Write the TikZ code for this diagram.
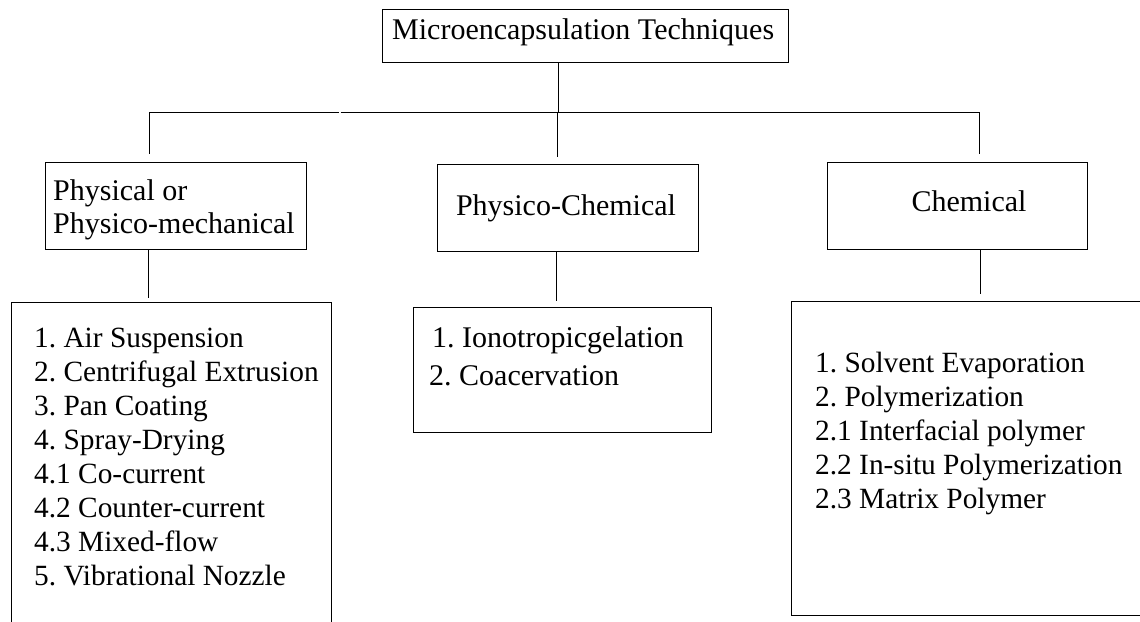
\documentclass[tikz,border=0pt]{standalone}
\usepackage{fontspec}
\setmainfont{Liberation Serif}
\frenchspacing
\begin{document}
\begin{tikzpicture}[x=1pt,y=-1pt,
  box/.style={draw=black, line width=1pt, inner sep=0pt, fill=none},
  txt/.style={inner sep=0pt, font=\fontsize{30}{34}\selectfont},
  listtxt/.style={inner sep=0pt, font=\fontsize{29.35}{34}\selectfont},
  conn/.style={draw=black, line width=1pt}]
\useasboundingbox (0,0) rectangle (1140,621);
\clip (0,0) rectangle (1140,621);
% boxes
\node[box, minimum width=406pt, minimum height=53pt] (top) at (585,35.5) {};
\node[box, minimum width=261pt, minimum height=87pt] (L1) at (175.5,205.5) {};
\node[box, minimum width=261pt, minimum height=87pt] (M1) at (567.5,207.5) {};
\node[box, minimum width=260pt, minimum height=87pt] (R1) at (957,205.5) {};
\node[box, minimum width=320pt, minimum height=338pt] (L2) at (171,471) {};
\node[box, minimum width=298pt, minimum height=125pt] (M2) at (562,369.5) {};
\node[box, minimum width=369pt, minimum height=314pt] (R2) at (975.5,458) {};
% texts
\node[txt, anchor=base west] (ttop) at (392,39) {Microencapsulation Techniques};
\node[txt, anchor=base west] (tl1a) at (53,200) {Physical or};
\node[txt, anchor=base west] (tl1b) at (53,233) {Physico-mechanical};
\node[txt, anchor=base] (tm1) at (566,215) {Physico-Chemical};
\node[txt, anchor=base] (tr1) at (969,211) {Chemical};
\foreach \t [count=\i] in {1. Air Suspension, 2. Centrifugal Extrusion, 3. Pan Coating, 4. Spray-Drying, 4.1 Co-current, 4.2 Counter-current, 4.3 Mixed-flow, 5. Vibrational Nozzle}
  \node[listtxt, anchor=base west] (tl2\i) at ({34},{347+34.1*(\i-1)}) {\t};
\node[txt, anchor=base west] (tm2a) at (432,347) {1. Ionotropicgelation};
\node[txt, anchor=base west] (tm2b) at (429,385) {2. Coacervation};
\foreach \t [count=\i] in {1. Solvent Evaporation, 2. Polymerization, 2.1 Interfacial polymer, 2.2 In-situ Polymerization, 2.3 Matrix Polymer}
  \node[listtxt, anchor=base west] (tr2\i) at ({815},{372+34*(\i-1)}) {\t};
% connectors
\coordinate (j) at (558,112);
\coordinate (bL) at (149,112);
\coordinate (bM) at (557,112);
\coordinate (bR) at (979,112);
\coordinate (g1) at (339,112);
\coordinate (g2) at (340.5,112);
\draw[conn] (top.south -| j) -- (j);
\draw[conn] (bL) -- (g1);
\draw[conn] (g2) -- (bR);
\draw[conn] (bL) -- ([yshift=8pt]L1.north -| bL);
\draw[conn] (bM) -- ([yshift=7pt]M1.north -| bM);
\draw[conn] (bR) -- ([yshift=8pt]R1.north -| bR);
\coordinate (dL) at (148,0);
\coordinate (dM) at (556,0);
\coordinate (dR) at (980,0);
\draw[conn] (L1.south -| dL) -- ([yshift=4pt]L2.north -| dL);
\draw[conn] (M1.south -| dM) -- ([yshift=6pt]M2.north -| dM);
\draw[conn] (R1.south -| dR) -- ([yshift=7pt]R2.north -| dR);
\end{tikzpicture}
\end{document}
